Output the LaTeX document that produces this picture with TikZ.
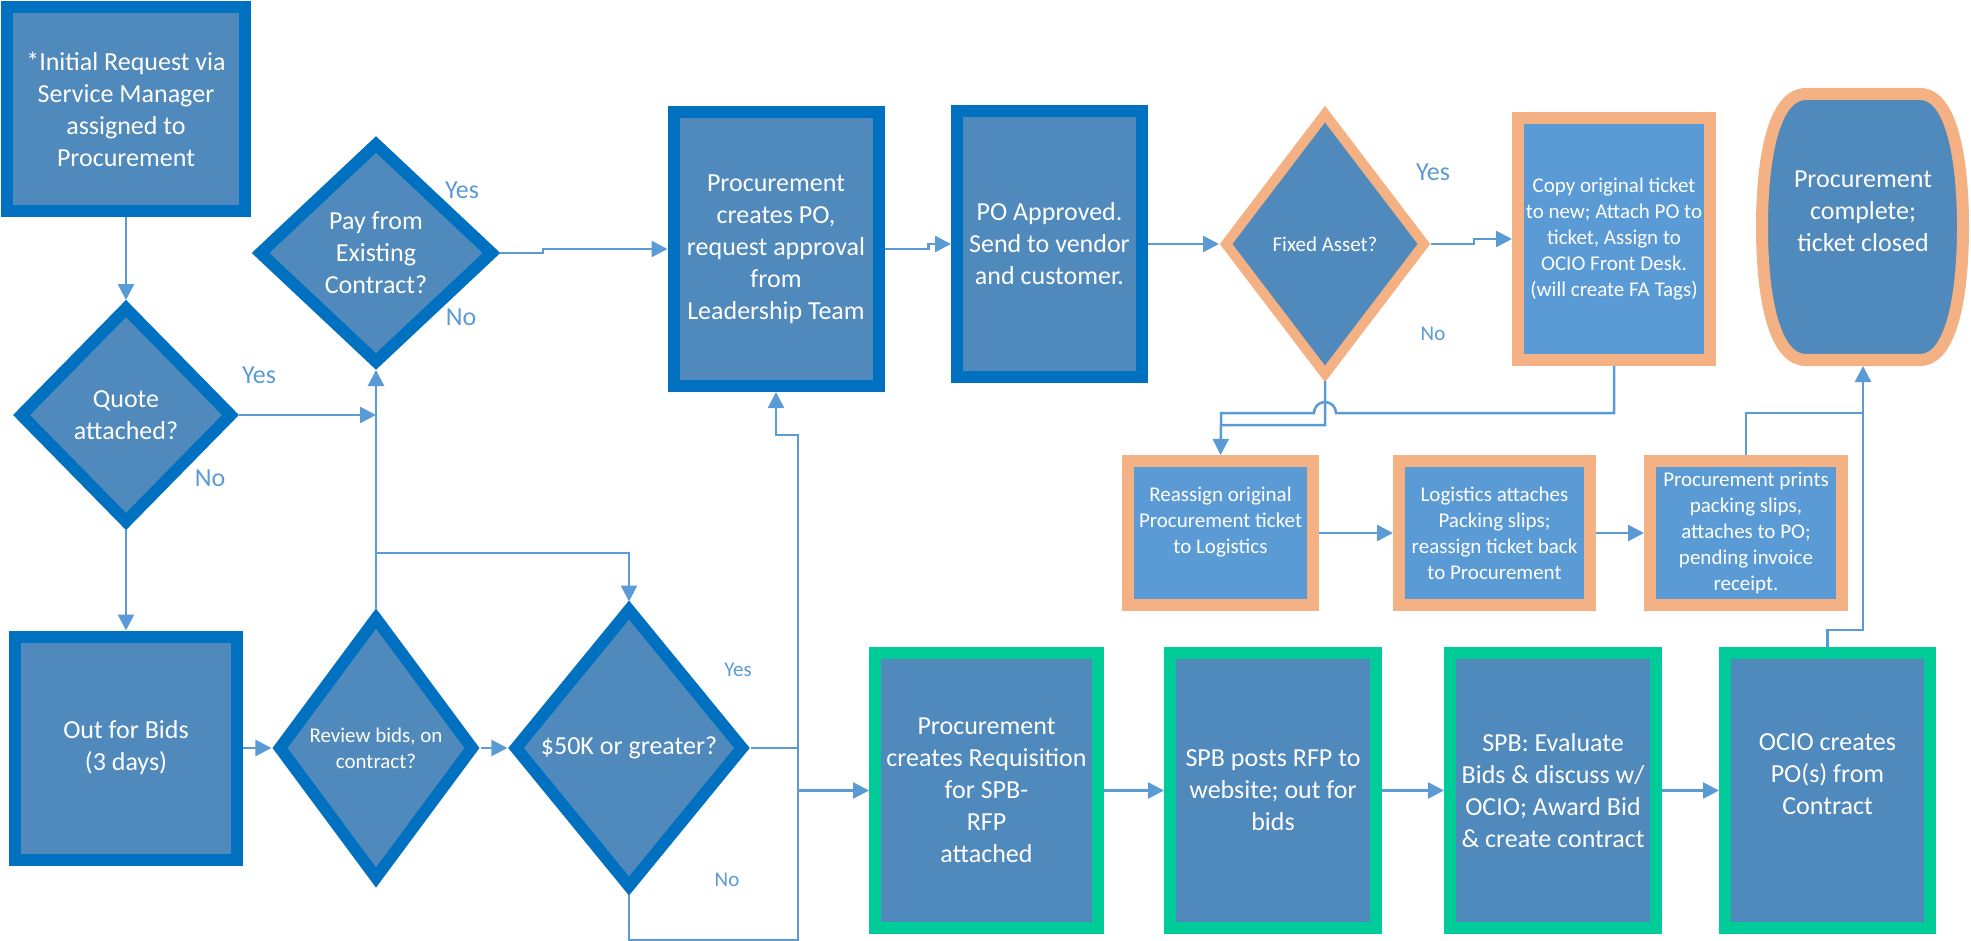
\documentclass[tikz,border=0pt]{standalone}
\usepackage{fontspec}
\setmainfont{Carlito}
\usepackage{tikz}
\usetikzlibrary{shapes.geometric,positioning,arrows.meta}

\definecolor{frameblue}{HTML}{0070C0}
\definecolor{boxblue}{HTML}{5089BC}
\definecolor{paleblue}{HTML}{5B9BD5}
\definecolor{frameorange}{HTML}{F4B183}
\definecolor{framegreen}{HTML}{00CC99}
\definecolor{linkblue}{HTML}{5B9BD5}

\newcommand{\txtbig}{\fontsize{13}{16}\selectfont}
\newcommand{\txtsmall}{\fontsize{10.5}{13}\selectfont}

\begin{document}
\begin{tikzpicture}[x=0.5pt,y=-0.5pt,>={Triangle[length=8pt,width=8pt]},
	task/.style={rectangle,draw=frameblue,fill=boxblue,line width=6pt,inner sep=1pt,align=center,text=white,font=\txtbig},
	query/.style={diamond,draw=frameblue,fill=boxblue,line width=6pt,inner sep=0pt,align=center,text=white,font=\txtbig},
	fabox/.style={task,draw=frameorange,fill=paleblue,font=\txtsmall},
	rfpbox/.style={task,draw=framegreen,minimum height=137.5pt},
	link/.style={linkblue,line width=1.25pt},
	answer/.style={text=linkblue,font=\txtbig}]
	\useasboundingbox (0,0) rectangle (1971,941);

	\node[task,minimum width=119pt,minimum height=102pt] (init) at (126,109) {*Initial Request via\\Service Manager\\assigned to\\Procurement};
	\node[query,minimum width=107pt,minimum height=109pt] (quote) at (126,415) {Quote\\attached?};
	\node[task,minimum width=111pt,minimum height=111.5pt] (bids) at (126,748) {Out for Bids\\(3 days)};
	\node[query,minimum width=118pt,minimum height=111pt] (pay) at (376,253) {Pay from\\Existing\\Contract?};
	\node[query,minimum width=98.5pt,minimum height=132pt,font=\txtsmall] (review) at (376,748) {Review bids, on\\contract?};
	\node[query,minimum width=115.5pt,minimum height=140.5pt] (big) at (629,748) {\$50K or greater?};
	\node[task,minimum width=102.5pt,minimum height=137pt] (po) at (776,249) {Procurement\\creates PO,\\request approval\\from\\Leadership Team};
	\node[task,minimum width=92.5pt,minimum height=133pt] (appr) at (1049.5,244) {PO Approved.\\Send to vendor\\and customer.};
	\node[query,draw=frameorange,line width=5pt,font=\txtsmall,minimum width=101pt,minimum height=132pt] (fa) at (1325,244) {Fixed Asset?};
	\node[fabox,minimum width=96pt,minimum height=121pt] (copy) at (1614,239) {Copy original ticket\\to new; Attach PO to\\ticket, Assign to\\OCIO Front Desk.\\(will create FA Tags)};

	% barrel end shape
	\draw[draw=frameorange,fill=boxblue,line width=6pt] (1806,94) -- (1920,94)
		.. controls (1952,94) and (1963,160) .. (1963,227)
		.. controls (1963,294) and (1952,360) .. (1920,360) -- (1806,360)
		.. controls (1773,360) and (1762,294) .. (1762,227)
		.. controls (1762,160) and (1773,94) .. (1806,94) -- cycle;
	\node[text=white,font=\txtbig,align=center,line width=6pt,inner sep=1pt,minimum width=100.5pt,minimum height=133pt] (done) at (1863,227) {Procurement\\complete;\\ticket closed\\\mbox{}};

	% fixed asset row
	\node[fabox,minimum width=92.5pt,minimum height=72pt] (reas) at (1220.5,533) {Reassign original\\Procurement ticket\\to Logistics\\\mbox{}};
	\node[fabox,minimum width=95.5pt,minimum height=72pt] (logi) [right=37pt of reas] {Logistics attaches\\Packing slips;\\reassign ticket back\\to Procurement};
	\node[fabox,minimum width=96pt,minimum height=72pt] (print) [right=24pt of logi] {Procurement prints\\packing slips,\\attaches to PO;\\pending invoice\\receipt.};

	% RFP row
	\node[rfpbox,minimum width=111.5pt] (req) at (986.5,790.5) {Procurement\\creates Requisition\\for SPB-\\RFP\\attached};
	\node[rfpbox,minimum width=103pt] (spb) [right=30pt of req] {SPB posts RFP to\\website; out for\\bids};
	\node[rfpbox,minimum width=103pt] (eval) [right=31pt of spb] {SPB: Evaluate\\Bids \& discuss w/\\OCIO; Award Bid\\\& create contract};
	\node[rfpbox,minimum width=102.5pt] (ocio) [right=28.5pt of eval] {OCIO creates\\PO(s) from\\Contract\\\mbox{}};

	\coordinate (split) at (376,553);
	\coordinate (rtop) at (798,435);
	\coordinate (rbot) at (798,940);
	\coordinate (faL) at (1221,425);
	\coordinate (copyL) at (1221,413);
	\coordinate (hop) at (1336,413);
	\coordinate (upJ) at (1863,630);
	\coordinate (prJ) at (1863,413);

	\path[->,link]
	(init) edge (quote)
	(quote) edge (bids)
	(bids) edge (review)
	(review) edge (big)
	(appr) edge (fa)
	(reas) edge (logi)
	(logi) edge (print)
	(req) edge (spb)
	(spb) edge (eval)
	(eval) edge (ocio);

	\draw[->,link] (quote.east) -- (quote.east -| pay.south);
	\draw[->,link] (review.north) -- (pay.south);
	\draw[->,link] (split) -| (big.north);
	\draw[->,link] (pay.east) -- ++(43,0) |- (po.west);
	\draw[->,link] (po.east) -- ++(44,0) |- (appr.west);
	\draw[->,link] (fa.east) -- ++(43,0) |- (copy.west);
	\draw[link] (big.east) -- (big.east -| rtop);
	\draw[->,link] (big.south) |- (rbot) -- (rtop) -| (po.south);
	\draw[->,link] (req.west -| rtop) -- (req.west);
	\draw[->,link] (fa.south) |- (faL) -- (reas.north);
	\draw[link] (copy.south) |- (hop) arc[start angle=0,end angle=180,radius=5.5pt] -- (copyL) -- (faL);
	\draw[->,link] (ocio.north) |- (upJ) -- (done.south);
	\draw[link] (print.north) |- (prJ);

	\node[answer] (yq) at (259,375) {Yes};
	\node[answer] (nq) at (210,478) {No};
	\node[answer] (yp) at (462,190) {Yes};
	\node[answer] (np) at (461,317) {No};
	\node[answer,font=\txtsmall] (yb) at (738,670) {Yes};
	\node[answer,font=\txtsmall] (nb) at (727,880) {No};
	\node[answer] (yf) at (1433,172) {Yes};
	\node[answer,font=\txtsmall] (nf) at (1433,334) {No};
\end{tikzpicture}
\end{document}
